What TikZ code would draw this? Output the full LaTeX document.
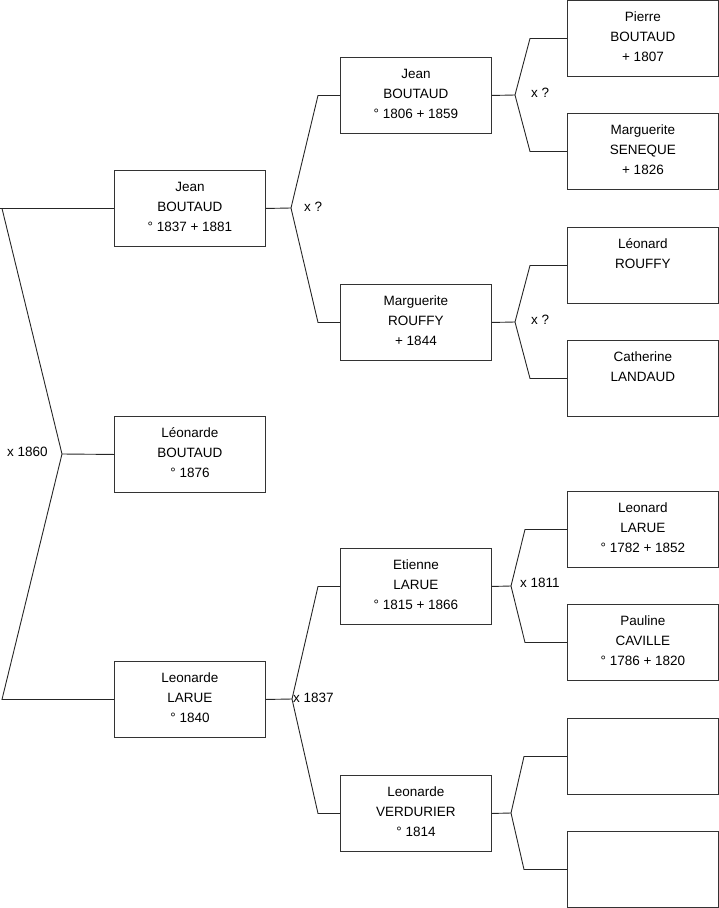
\documentclass[tikz,border=0pt]{standalone}
\usepackage{fontspec}
\setmainfont{Liberation Sans}
\begin{document}
\begin{tikzpicture}[x=1pt,y=-1pt,
  person/.style={draw=black!80, line width=0.9pt, minimum width=151pt, minimum height=76pt, inner sep=0pt, align=center, font=\fontsize{13.5}{20}\selectfont, anchor=north west, text depth=4pt},
  link/.style={draw=black!85, line width=0.9pt},
  lbl/.style={font=\fontsize{13.5}{15}\selectfont, inner sep=0pt, anchor=west}]
\useasboundingbox (0,0) rectangle (719,908);
% column 1
\node[person] (A) at (114,170) {Jean\\BOUTAUD\\° 1837 + 1881};
\node[person] (B) at (114,416) {Léonarde\\BOUTAUD\\° 1876};
\node[person] (C) at (114,661) {Leonarde\\LARUE\\° 1840};
% column 2
\node[person] (D) at (340,57) {Jean\\BOUTAUD\\° 1806 + 1859};
\node[person] (E) at (340,284) {Marguerite\\ROUFFY\\+ 1844};
\node[person] (F) at (340,548) {Etienne\\LARUE\\° 1815 + 1866};
\node[person] (G) at (340,775) {Leonarde\\VERDURIER\\° 1814};
% column 3
\node[person] (H) at (567,0) {Pierre\\BOUTAUD\\+ 1807};
\node[person] (I) at (567,113) {Marguerite\\SENEQUE\\+ 1826};
\node[person] (J) at (567,227) {Léonard\\ROUFFY\\\strut};
\node[person] (K) at (567,340) {Catherine\\LANDAUD\\\strut};
\node[person] (L) at (567,491) {Leonard\\LARUE\\° 1782 + 1852};
\node[person] (M) at (567,604) {Pauline\\CAVILLE\\° 1786 + 1820};
\node[person] (N) at (567,718) {};
\node[person] (O) at (567,831) {};
% fork points
\coordinate (f0) at (62,454);  \coordinate (x0) at (2,0);
\coordinate (fA) at (291,208); \coordinate (xA) at (318,0);
\coordinate (fC) at (292,699); \coordinate (xC) at (318,0);
\coordinate (fD) at (515,95);  \coordinate (xD) at (530,0);
\coordinate (fE) at (515,322); \coordinate (xE) at (530,0);
\coordinate (fF) at (511,586); \coordinate (xF) at (525,0);
\coordinate (fG) at (511,813); \coordinate (xG) at (524,0);
% connectors
\draw[link] (A.west) -- (A.west -| 0,0) ;
\draw[link] (A.west -| x0) -- (f0) -- (C.west -| x0) -- (C.west);
\draw[link] (f0) -- (B.west);
\draw[link] (A.east) -- (fA);
\draw[link] (D.west) -- (D.west -| xA) -- (fA) -- (E.west -| xA) -- (E.west);
\draw[link] (C.east) -- (fC);
\draw[link] (F.west) -- (F.west -| xC) -- (fC) -- (G.west -| xC) -- (G.west);
\draw[link] (D.east) -- (fD);
\draw[link] (H.west) -- (H.west -| xD) -- (fD) -- (I.west -| xD) -- (I.west);
\draw[link] (E.east) -- (fE);
\draw[link] (J.west) -- (J.west -| xE) -- (fE) -- (K.west -| xE) -- (K.west);
\draw[link] (F.east) -- (fF);
\draw[link] (L.west) -- (L.west -| xF) -- (fF) -- (M.west -| xF) -- (M.west);
\draw[link] (G.east) -- (fG);
\draw[link] (N.west) -- (N.west -| xG) -- (fG) -- (O.west -| xG) -- (O.west);
% labels
\node[lbl] (l0) at (7,452) {x 1860};
\node[lbl] (lA) at (304,207) {x ?};
\node[lbl] (lC) at (293,698) {x 1837};
\node[lbl] (lD) at (531,93) {x ?};
\node[lbl] (lE) at (531,320) {x ?};
\node[lbl] (lF) at (520,583) {x 1811};
\end{tikzpicture}
\end{document}
